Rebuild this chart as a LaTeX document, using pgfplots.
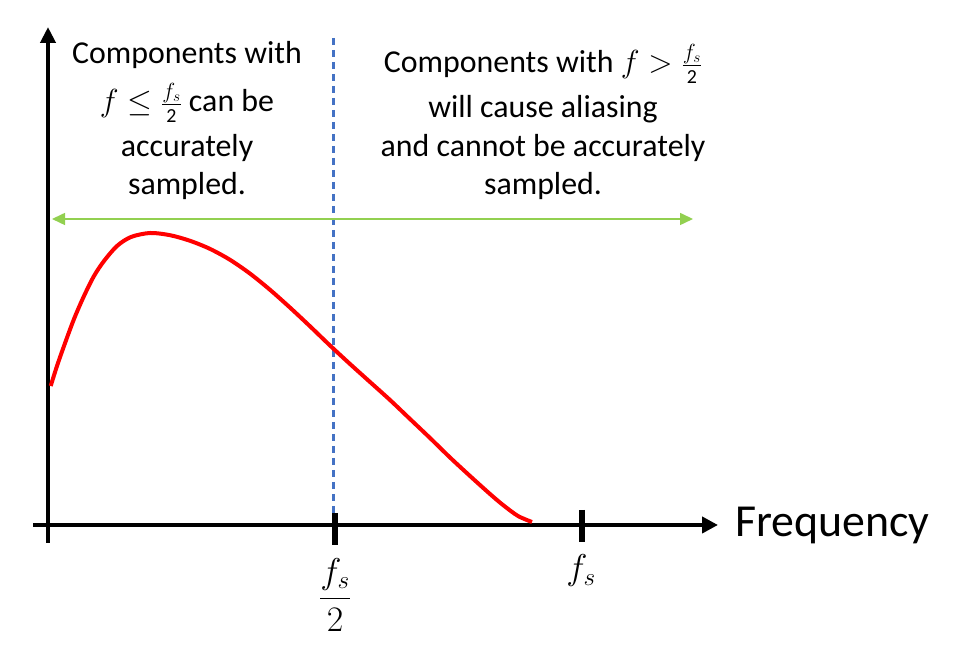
\RequirePackage{fix-cm}
\documentclass[border=0pt]{standalone}
\usepackage{fontspec}
\setmainfont{Carlito}
\usepackage{amsmath}
\usepackage{pgfplots}
\pgfplotsset{compat=1.18}
\usetikzlibrary{arrows.meta}
\definecolor{curvered}{RGB}{255,0,0}
\definecolor{nyqblue}{RGB}{68,114,196}
\definecolor{bandgreen}{RGB}{146,208,80}
\tikzset{txt/.style={anchor=base, inner sep=0pt, font=\fontsize{32}{38}\selectfont}}
% inline fs/2 with a larger numerator, as in the reference
\newcommand{\halffs}{\frac{\mbox{\fontsize{22}{24}\selectfont$f_s$}}%
  {\mbox{\fontsize{20}{22}\selectfont 2}}}

\begin{document}
\begin{tikzpicture}
\begin{axis}[
  scale only axis,
  width=966bp, height=650bp,
  xmin=-48, xmax=918, ymin=-125, ymax=525,
  hide axis, clip=false]

  % keep the full canvas in the bounding box
  \addplot[draw=none] coordinates {(-48,-125) (918,525)};

  % axes
  \addplot[line width=4.5bp, -{Triangle[length=16bp,width=15bp]}]
    coordinates {(0,-18) (0,498)};
  \addplot[line width=4.5bp, -{Triangle[length=16bp,width=16bp]}]
    coordinates {(-15,0) (670,0)};

  % ticks at fs/2 and fs
  \addplot[line width=6bp] coordinates {(287,12) (287,-20)};
  \addplot[line width=6bp] coordinates {(534,15) (534,-17)};

  % Nyquist line
  \addplot[nyqblue, line width=2.2bp, dash pattern=on 7bp off 5bp]
    coordinates {(285.5,487) (285.5,12)};

  % band arrow
  \addplot[bandgreen, line width=1.5bp,
    {Triangle[length=13bp,width=12bp]}-{Triangle[length=13bp,width=12bp]}]
    coordinates {(4,306) (645,306)};

  % spectrum
  \addplot[curvered, line width=4bp, smooth] coordinates {
    (2.7,139) (9,159) (16,179) (26,206) (36,229) (46,249) (56,264)
    (69,279) (83,288) (102,292) (122,289.8) (142,284.2) (162,276.1)
    (182,265.2) (202,251.4) (222,235.2) (242,217.4) (262,198.7)
    (282,179.5) (302,161) (322,143) (342,125) (362,106) (382,87)
    (402,67.5) (422,49) (442,31) (455,20) (470,9) (484,3)};

  % labels
  \node[anchor=base west, inner sep=0pt, font=\fontsize{46}{52}\selectfont]
    at (axis cs:687,-12) {Frequency};
  \node[inner sep=0pt, font=\fontsize{36}{40}\selectfont]
    at (axis cs:287,-70) {$\dfrac{f_s}{2}$};
  \node[inner sep=0pt, font=\fontsize{36}{40}\selectfont]
    at (axis cs:533,-46) {$f_s$};

  \node[txt] at (axis cs:139,461) {Components with};
  \node[txt] at (axis cs:139,413) {$f\le\halffs$ can be};
  \node[txt] at (axis cs:139,368) {accurately};
  \node[txt] at (axis cs:139,330) {sampled.};

  \node[txt] at (axis cs:495,452) {Components with $f>\halffs$};
  \node[txt] at (axis cs:495,407) {will cause aliasing};
  \node[txt] at (axis cs:495,368) {and cannot be accurately};
  \node[txt] at (axis cs:495,330) {sampled.};
\end{axis}
\end{tikzpicture}
\end{document}
